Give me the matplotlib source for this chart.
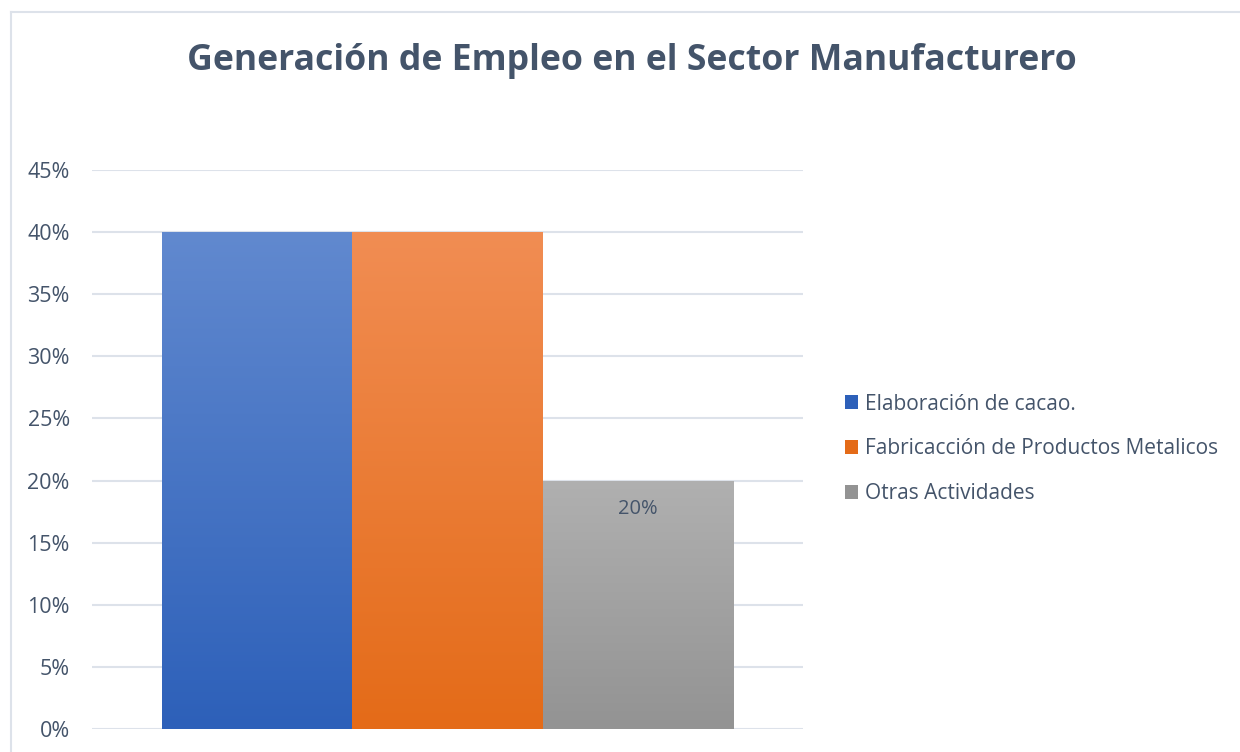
import matplotlib.pyplot as plt
import matplotlib.colors as mcolors
from matplotlib.lines import Line2D
from matplotlib.patches import Patch
import numpy as np

plt.rcParams['font.family'] = ['Open Sans', 'DejaVu Sans']

# data
series = ["Elaboración de cacao.", "Fabricacción de Productos Metalicos", "Otras Actividades"]
values = [0.40, 0.40, 0.20]
top_colors = ["#6189CF", "#F18D53", "#B0B0B0"]
bottom_colors = ["#2D60B9", "#E46B18", "#939393"]
yticks = [0, 0.05, 0.10, 0.15, 0.20, 0.25, 0.30, 0.35, 0.40, 0.45]
title = "Generación de Empleo en el Sector Manufacturero"
text_color = "#44546A"

fig = plt.figure(figsize=(12.4, 7.52), dpi=100)
fig.patch.set_facecolor("white")

# chart frame (only top/left visible in crop)
fig.add_artist(Line2D([11 / 1240, 1], [1 - 12 / 752, 1 - 12 / 752], color="#DDE2EA", lw=1.5))
fig.add_artist(Line2D([11 / 1240, 11 / 1240], [0, 1 - 12 / 752], color="#DDE2EA", lw=1.5))

ax = fig.add_axes([92 / 1240, 23 / 752, (803 - 92) / 1240, (729 - 170) / 752])

x = np.arange(len(values)) - 1
for xi, v, c_top, c_bot in zip(x, values, top_colors, bottom_colors):
    bar = ax.bar(xi, v, width=1.0, color="none", edgecolor="none", zorder=2)[0]
    cmap = mcolors.LinearSegmentedColormap.from_list("g", [c_bot, c_top])
    grad = np.linspace(0, 1, 256).reshape(-1, 1)
    im = ax.imshow(grad, cmap=cmap, origin="lower", aspect="auto",
                   extent=[xi - 0.5, xi + 0.5, 0, v], zorder=2)
    im.set_clip_path(bar)

ax.set_xlim(-1.871, 1.871)
ax.set_ylim(0, 0.45)

# data label on last bar
ax.text(x[2], values[2] - 0.0225, f"{values[2]:.0%}", ha="center", va="center",
        fontsize=14.5, color=text_color, zorder=3)

ax.set_yticks(yticks)
ax.set_yticklabels([f"{t:.0%}" for t in yticks])
ax.yaxis.grid(True, color="#DDE2EA", lw=1.5, zorder=0)
ax.set_axisbelow(True)
ax.set_xticks([])
ax.tick_params(axis="y", length=0, labelsize=15.5, labelcolor=text_color, pad=16)
for s in ax.spines.values():
    s.set_visible(False)

fig.text(632 / 1240, 1 - 61 / 752, title, ha="center", va="center",
         fontsize=25.7, fontweight="bold", color=text_color)

handles = [Patch(facecolor=c, edgecolor="none") for c in bottom_colors]
leg = fig.legend(handles, series, loc="center left", bbox_to_anchor=(845 / 1240, 1 - 449 / 752),
                 frameon=False, fontsize=15, handlelength=0.62, handleheight=0.62,
                 handletextpad=0.33, labelspacing=1.15, borderaxespad=0, borderpad=0)
for t in leg.get_texts():
    t.set_color(text_color)

fig.savefig("out.png", dpi=100)
